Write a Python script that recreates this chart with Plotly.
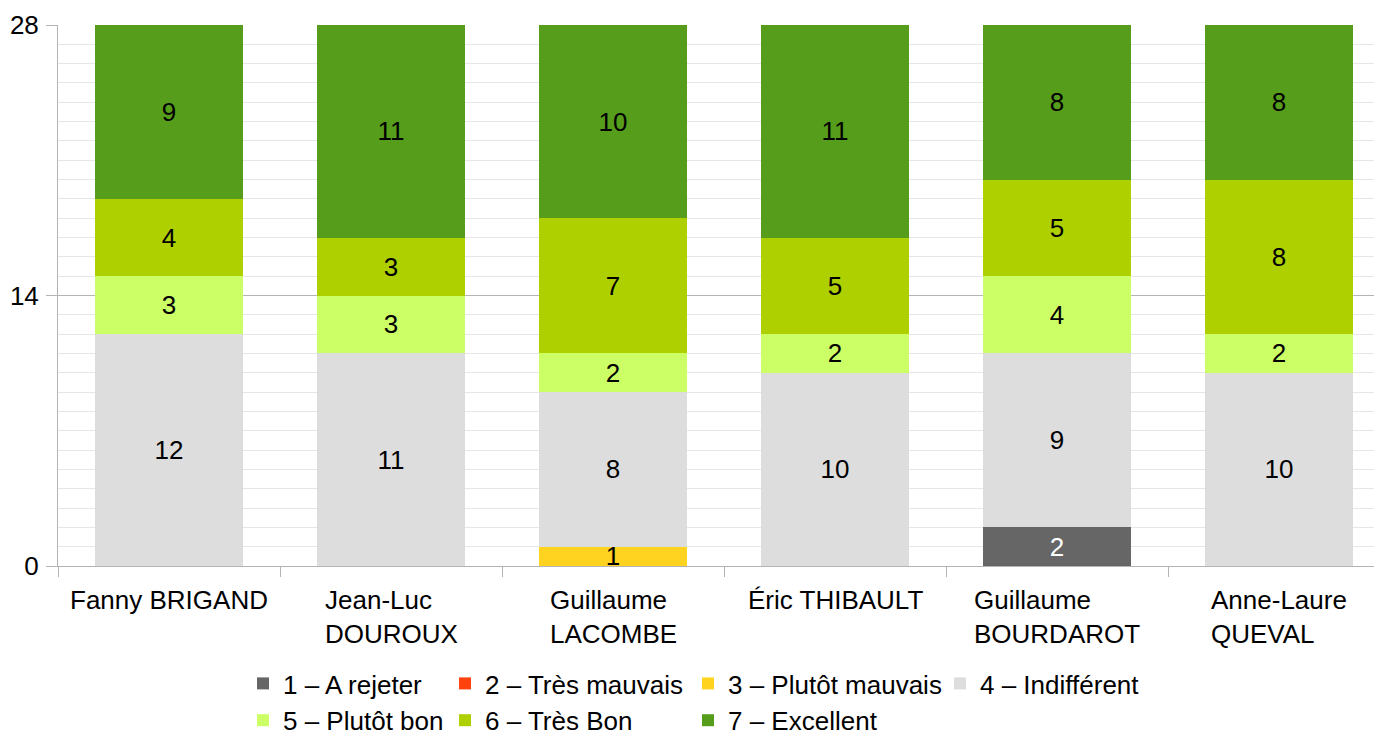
import plotly.graph_objects as go

# ---- data ----
candidates = ["Fanny BRIGAND", "Jean-Luc DOUROUX", "Guillaume LACOMBE",
              "Éric THIBAULT", "Guillaume BOURDAROT", "Anne-Laure QUEVAL"]
tick_labels = ["Fanny BRIGAND", "Jean-Luc<br>DOUROUX", "Guillaume<br>LACOMBE",
               "Éric THIBAULT", "Guillaume<br>BOURDAROT", "Anne-Laure<br>QUEVAL"]
series_names = ["1 – A rejeter", "2 – Très mauvais", "3 – Plutôt mauvais",
                "4 – Indifférent", "5 – Plutôt bon", "6 – Très Bon", "7 – Excellent"]
v1 = [0, 0, 0, 0, 2, 0]
v2 = [0, 0, 0, 0, 0, 0]
v3 = [0, 0, 1, 0, 0, 0]
v4 = [12, 11, 8, 10, 9, 10]
v5 = [3, 3, 2, 2, 4, 2]
v6 = [4, 3, 7, 5, 5, 8]
v7 = [9, 11, 10, 11, 8, 8]
y_ticks = [0, 14, 28]

series_values = [v1, v2, v3, v4, v5, v6, v7]
colors = ["#666666", "#ff420e", "#ffd320", "#dddddd", "#ccff66", "#aecf00", "#579d1c"]
text_colors = ["#ffffff", "#000000", "#000000", "#000000", "#000000", "#000000", "#000000"]
legend_ids = ["legend", "legend2", "legend3", "legend4", "legend", "legend2", "legend3"]

FONT = "Liberation Sans, Arial, sans-serif"
FS = 26
OFF = 8  # default page body margin offsets the figure
W, H = 1382 - OFF, 733 - OFF
ML, MR, MT, MB = 58 - OFF, 0, 25 - OFF, 167

fig = go.Figure()
for name, vals, col, tcol, lg in zip(series_names, series_values, colors, text_colors, legend_ids):
    fig.add_trace(go.Bar(
        name=name, x=candidates, y=vals,
        marker=dict(color=col, line=dict(width=0)),
        text=[str(v) if v else "" for v in vals],
        textposition="inside", insidetextanchor="middle",
        textangle=0, constraintext="none",
        insidetextfont=dict(family=FONT, size=FS, color=tcol),
        hoverinfo="name+y",
        legend=lg,
    ))

# x tick labels as left-aligned multi-line text blocks
for cat, lab in zip(candidates, tick_labels):
    fig.add_annotation(x=cat, y=0, xref="x", yref="y", text=lab, showarrow=False,
                       xanchor="center", yanchor="top", align="left", yshift=-17,
                       font=dict(family=FONT, size=FS, color="#000000"))

def lx(px):
    return (px - OFF) / W

def ly(px):
    return (H - (px - OFF)) / H

legend_common = dict(orientation="v", traceorder="normal", xanchor="left", yanchor="top",
                     xref="container", yref="container",
                     bgcolor="rgba(0,0,0,0)", borderwidth=0,
                     font=dict(family=FONT, size=FS, color="#000000"))
leg_top = 660
fig.update_layout(
    legend=dict(x=lx(243), y=ly(leg_top), **legend_common),
    legend2=dict(x=lx(445), y=ly(leg_top), **legend_common),
    legend3=dict(x=lx(688), y=ly(leg_top), **legend_common),
    legend4=dict(x=lx(940), y=ly(leg_top), **legend_common),
)

fig.update_layout(
    width=W, height=H,
    margin=dict(l=ML, r=MR, t=MT, b=MB, pad=0, autoexpand=False),
    barmode="stack", bargap=0.333,
    plot_bgcolor="#ffffff", paper_bgcolor="#ffffff",
    font=dict(family=FONT, size=FS, color="#000000"),
    showlegend=True,
    xaxis=dict(type="category", categoryorder="array", categoryarray=candidates,
               range=[-0.5, 5.5 - 8 / 222], showticklabels=False, automargin=False,
               showline=True, linecolor="#b3b3b3", linewidth=1,
               ticks="outside", tickson="boundaries", ticklen=10, tickcolor="#b3b3b3",
               showgrid=False, zeroline=False, fixedrange=True),
    yaxis=dict(range=[0, 28], tickvals=y_ticks, ticktext=[str(t) for t in y_ticks],
               automargin=False,
               showline=True, linecolor="#b3b3b3", linewidth=1,
               ticks="outside", ticklen=11, tickcolor="#b3b3b3",
               ticklabelstandoff=2,
               showgrid=True, gridcolor="#b3b3b3", gridwidth=1,
               minor=dict(dtick=1, tick0=0, showgrid=True, gridcolor="#e6e6e6", ticks=""),
               zeroline=False, tickfont=dict(family=FONT, size=FS, color="#000000"),
               fixedrange=True),
)

fig.write_html("out.html")
